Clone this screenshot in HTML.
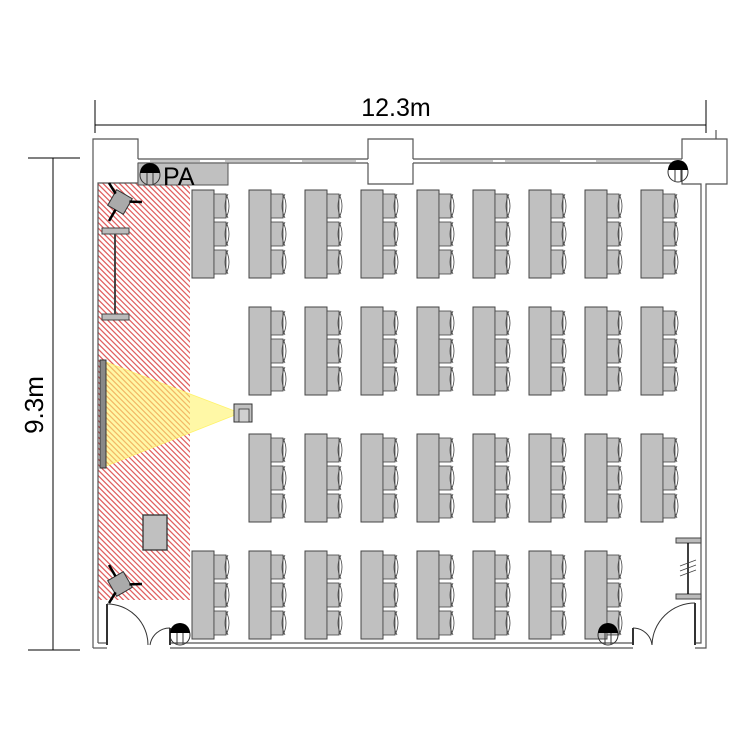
<!DOCTYPE html>
<html><head><meta charset="utf-8"><style>
html,body{margin:0;padding:0;background:#fff;width:750px;height:750px;overflow:hidden}
svg{display:block;position:absolute;left:0;top:0}
</style></head><body>
<svg id="s" width="750" height="750" viewBox="0 0 750 750" xmlns="http://www.w3.org/2000/svg">
<defs>
<clipPath id="hc"><rect x="98" y="183" width="92" height="417"/></clipPath>
</defs>
<!-- dimensions -->
<g stroke="#000" stroke-width="1" fill="none">
<line x1="95" y1="125" x2="706" y2="125"/>
<line x1="95" y1="100" x2="95" y2="133"/>
<line x1="706" y1="100" x2="706" y2="133"/>
<line x1="53" y1="158" x2="53" y2="650"/>
<line x1="28" y1="158" x2="80" y2="158"/>
<line x1="28" y1="650" x2="80" y2="650"/>
</g>
<text x="396" y="116" font-family="Liberation Sans, sans-serif" font-size="25" text-anchor="middle">12.3m</text>
<text transform="translate(43,405) rotate(-90)" font-family="Liberation Sans, sans-serif" font-size="26" text-anchor="middle">9.3m</text>
<!-- hatched zone -->
<g id="hatch" clip-path="url(#hc)" stroke="#e06060" stroke-width="1.3"></g>
<polygon points="106,362 106,466 240,413" fill="#fff36a" opacity="0.6"/>
<g stroke="#fff36a" stroke-width="0.8"><line x1="106" y1="362" x2="240" y2="413"/><line x1="106" y1="466" x2="240" y2="413"/></g>
<!-- walls -->
<g stroke="#555" stroke-width="1.2" fill="none">
<path d="M93,648 V139 H138 V159" />
<path d="M98,643 V183 H138 V163"/>
<line x1="138" y1="159" x2="368" y2="159"/>
<line x1="138" y1="163" x2="368" y2="163"/>
<line x1="413" y1="159" x2="682" y2="159"/>
<line x1="413" y1="163" x2="682" y2="163"/>
<path d="M368,159 V139 H413 V159 M368,163 V184 H413 V163"/>
<path d="M682,159 V139 H727 V184 H706 V648 H695 M682,163 V184 H701 V643 H695" />
<line x1="93" y1="648" x2="107" y2="648"/>
<line x1="98" y1="643" x2="107" y2="643"/>
<line x1="170" y1="648" x2="633" y2="648"/>
<line x1="170" y1="643" x2="633" y2="643"/>
<line x1="716" y1="130" x2="716" y2="139"/>
</g>
<!-- windows -->
<g stroke="#666" stroke-width="0.8">
<line x1="150" y1="161" x2="200" y2="161"/><line x1="225" y1="161" x2="290" y2="161"/><line x1="302" y1="161" x2="356" y2="161"/>
<line x1="440" y1="161" x2="493" y2="161"/><line x1="505" y1="161" x2="560" y2="161"/><line x1="596" y1="161" x2="650" y2="161"/>
</g>
<!-- doors -->
<g stroke="#333" stroke-width="1" fill="none">
<line x1="107" y1="604" x2="107" y2="645" stroke-width="2"/>
<path d="M107,604 A41,41 0 0 1 148,645"/>
<path d="M150,645 A20,20 0 0 1 170,628"/>
<line x1="170" y1="628" x2="170" y2="645" stroke-width="2"/>
<line x1="695" y1="603" x2="695" y2="645" stroke-width="2"/>
<path d="M652,645 A43,43 0 0 1 695,603"/>
<path d="M633,628 A19,19 0 0 1 652,645"/>
<line x1="633" y1="628" x2="633" y2="645" stroke-width="2"/>
</g>
<!-- PA -->
<rect x="138" y="163" width="90" height="22" fill="#c0c0c0" stroke="#555"/>
<text x="163" y="185" font-family="Liberation Sans, sans-serif" font-size="25">PA</text>
<!-- screen -->
<rect x="100" y="360" width="6" height="108" fill="#888" stroke="#333"/>
<!-- projector -->
<rect x="234" y="404" width="18" height="18" fill="#c0c0c0" stroke="#333"/>
<rect x="239" y="409" width="10" height="13" fill="#d0d0d0" stroke="#333" stroke-width="0.8"/>
<!-- podium -->
<rect x="143" y="515" width="24" height="35" fill="#c0c0c0" stroke="#333" stroke-width="1.3"/>
<!-- stand left -->
<g stroke="#444" fill="#bbb">
<rect x="102" y="228" width="27" height="6"/><rect x="102" y="314" width="27" height="6"/>
<line x1="115" y1="234" x2="115" y2="314" stroke-width="2"/>
</g>
<!-- cameras -->
<g transform="translate(120,202) rotate(30)">
<rect x="-9" y="-9" width="18" height="18" fill="#aaa" stroke="#333"/>
<g stroke="#000" stroke-width="2.5"><line x1="0" y1="9" x2="0" y2="22"/><line x1="-8" y1="-5" x2="-19" y2="-11"/><line x1="8" y1="-5" x2="19" y2="-11"/></g>
</g>
<g transform="translate(120,584) rotate(-30)">
<rect x="-9" y="-9" width="18" height="18" fill="#aaa" stroke="#333"/>
<g stroke="#000" stroke-width="2.5"><line x1="0" y1="-9" x2="0" y2="-22"/><line x1="-8" y1="5" x2="-19" y2="11"/><line x1="8" y1="5" x2="19" y2="11"/></g>
</g>
<g id="desks"></g>
<!-- stand right -->
<g stroke="#444" fill="#bbb">
<rect x="676" y="538" width="25" height="5"/><rect x="676" y="594" width="25" height="5"/>
<line x1="688" y1="543" x2="688" y2="594" stroke="#000" stroke-width="1.5"/>
<line x1="680" y1="566" x2="696" y2="560" stroke-width="0.8"/><line x1="680" y1="571" x2="696" y2="565" stroke-width="0.8"/><line x1="680" y1="576" x2="696" y2="570" stroke-width="0.8"/>
</g>
<g id="spk"></g>
</svg>
<script>
var NS="http://www.w3.org/2000/svg";
function el(p,t,a){var e=document.createElementNS(NS,t);for(var k in a)e.setAttribute(k,a[k]);p.appendChild(e);return e;}
var h=document.getElementById('hatch');
for(var k=-120;k<520;k+=5.5){el(h,'line',{x1:98,y1:183+k,x2:198,y2:283+k});}
var g=document.getElementById('desks');
var rows=[[190,9,0],[307,9,1],[434,9,1],[551,8,0]];
var cols=[192,249,305,361,417,473,529,585,641];
rows.forEach(function(r){
 cols.forEach(function(x,i){
  if(i<r[2]||i>=r[1])return;
  var y=r[0];
  el(g,'rect',{x:x,y:y,width:22,height:88,fill:'#c0c0c0',stroke:'#444','stroke-width':1});
  for(var c=0;c<3;c++){
   var cy=y+4+c*28;
   el(g,'rect',{x:x+22,y:cy,width:12,height:24,fill:'#c0c0c0',stroke:'#444','stroke-width':0.8});
   el(g,'path',{d:'M'+(x+34)+','+cy+' Q'+(x+40)+','+(cy+12)+' '+(x+34)+','+(cy+24)+' M'+(x+36)+','+cy+' Q'+(x+30)+','+(cy+12)+' '+(x+36)+','+(cy+24),fill:'none',stroke:'#444','stroke-width':0.8});
  }
 });
});
var s=document.getElementById('spk');
function spk(cx,cy){
 el(s,'circle',{cx:cx,cy:cy,r:10,fill:'none',stroke:'#333'});
 el(s,'path',{d:'M'+(cx-10)+','+(cy-2)+' A10,10 0 0 1 '+(cx+10)+','+(cy-2)+' Z',fill:'#000'});
 el(s,'line',{x1:cx-3,y1:cy-2,x2:cx-3,y2:cy+9,stroke:'#333'});
 el(s,'line',{x1:cx+3,y1:cy-2,x2:cx+3,y2:cy+9,stroke:'#333'});
}
spk(150,175);spk(678,172);spk(180,635);spk(608,635);
</script>
</body></html>
